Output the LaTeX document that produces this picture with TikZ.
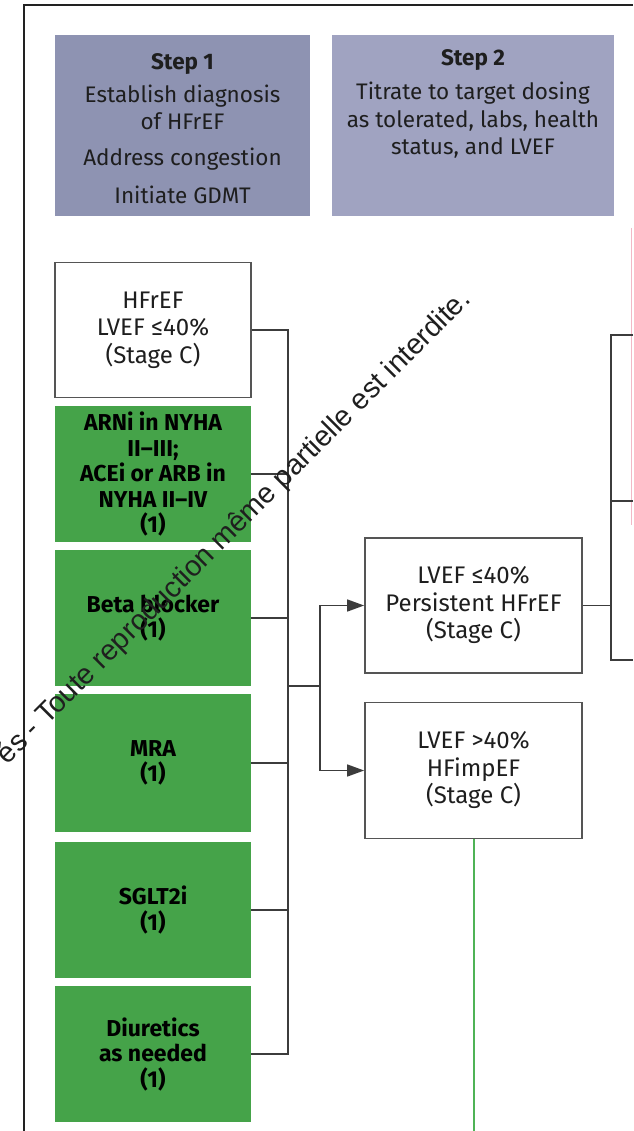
\documentclass[tikz,border=0pt]{standalone}
\usepackage{fontspec}
\setmainfont{Fira Sans}
\newfontfamily\wmfont{Liberation Sans}
\usetikzlibrary{arrows.meta}
\definecolor{stepA}{HTML}{8E93B2}
\definecolor{stepB}{HTML}{A0A3C1}
\definecolor{gdmt}{HTML}{45A349}
\definecolor{linec}{HTML}{3C3C3C}
\definecolor{boxline}{HTML}{555555}
\definecolor{framec}{HTML}{222222}
\definecolor{pinkl}{HTML}{F2B8C6}
\definecolor{greenl}{HTML}{4FB356}
\definecolor{txt}{HTML}{1E1E1E}
\begin{document}
\begin{tikzpicture}[x=1pt,y=-1pt,
  stepbox/.style={draw=none, inner sep=0pt, minimum height=181pt},
  steptext/.style={align=center, text=txt, inner sep=0pt, font=\fontsize{22.5}{27.5}\selectfont},
  wbox/.style={draw=boxline, line width=1.8pt, fill=white, minimum width=196pt, minimum height=135pt,
    align=center, inner sep=0pt, text=txt, font=\fontsize{24}{27.5}\selectfont},
  gbox/.style={fill=gdmt, draw=none, minimum width=196pt, minimum height=136pt,
    align=center, inner sep=0pt, text=black, font=\bfseries\fontsize{23}{25.5}\selectfont},
  obox/.style={draw=boxline, line width=1.8pt, fill=white, minimum width=217pt, minimum height=135pt,
    align=center, inner sep=0pt, text=txt, font=\fontsize{24}{27.5}\selectfont},
  conn/.style={draw=linec, line width=1.6pt},
  arr/.style={conn, -{Triangle[length=17pt,width=12pt]}},
  wm/.style={text=black!88, inner sep=0pt, font=\wmfont\fontsize{28.8}{31}\selectfont}
]
\useasboundingbox (0,0) rectangle (633,1131);
\fill[white] (0,0) rectangle (633,1131);

% outer frame
\draw[framec, line width=2.8pt] (24,1131) -- (24,5) -- (633,5);
% pink box edge on the right
\draw[pinkl, line width=1.4pt] (631.5,228) -- (631.5,525);

% step boxes
\node[stepbox, fill=stepA, minimum width=255pt] (step1) at (182.5,126) {};
\node[stepbox, fill=stepB, minimum width=282pt] (step2) at (473,126) {};
\node[steptext] (s1t) at (182.5,129) {\textbf{Step 1}\\[5pt]Establish diagnosis\\of HFrEF\\[8pt]Address congestion\\[11pt]Initiate GDMT};
\node[steptext] (s2t) at (473,104) {\textbf{Step 2}\\[7pt]Titrate to target dosing\\as tolerated, labs, health\\status, and LVEF};

% left column
\node[wbox] (hfref) at (153,330) {HFrEF\\LVEF ≤40\%\\(Stage C)};
\node[gbox] (arni) at (153,474) {ARNi in NYHA\\II–III;\\ACEi or ARB in\\NYHA II–IV\\(1)};
\node[gbox] (beta) at (153,618) {Beta blocker\\(1)};
\node[gbox, minimum height=138pt] (mra) at (153,763) {MRA\\(1)};
\node[gbox] (sglt) at (153,910) {SGLT2i\\(1)};
\node[gbox] (diur) at (153,1054) {Diuretics\\as needed\\(1)};

% outcome boxes
\node[obox] (pers) at (473.5,605.5) {LVEF ≤40\%\\Persistent HFrEF\\(Stage C)};
\node[obox, minimum height=136pt] (imp) at (473.5,770.5) {LVEF >40\%\\HFimpEF\\(Stage C)};

% bus
\coordinate (bustop) at (288,330);
\draw[conn] (hfref.east) -- (hfref.east -| bustop) |- (diur.east);
\foreach \n in {arni,beta,mra,sglt} \draw[conn] (\n.east) -- (\n.east -| bustop);
\coordinate (j) at (288,686);
\coordinate (k) at (320,686);
\draw[conn] (j) -- (k);
\draw[arr] (k) |- (pers.west);
\draw[arr] (k) |- (imp.west);

% right bracket
\coordinate (rx1) at (611,335);
\coordinate (rx2) at (611,660);
\coordinate (ro1) at (633,335);
\coordinate (ro2) at (633,501);
\coordinate (ro3) at (633,660);
\draw[conn] (pers.east) -- (pers.east -| rx1);
\draw[conn] (ro1) -- (rx1) -- (rx2) -- (ro3);
\draw[conn] (rx1 |- ro2) -- (ro2);

% green line down from HFimpEF
\coordinate (bot) at (473.5,1131);
\draw[greenl, line width=2pt] (imp.south) -- (bot);

% watermark
\node[wm, rotate=45, anchor=base east] (wmark) at (472,301) {és - Toute reproduction même partielle est interdite.};
\end{tikzpicture}
\end{document}
